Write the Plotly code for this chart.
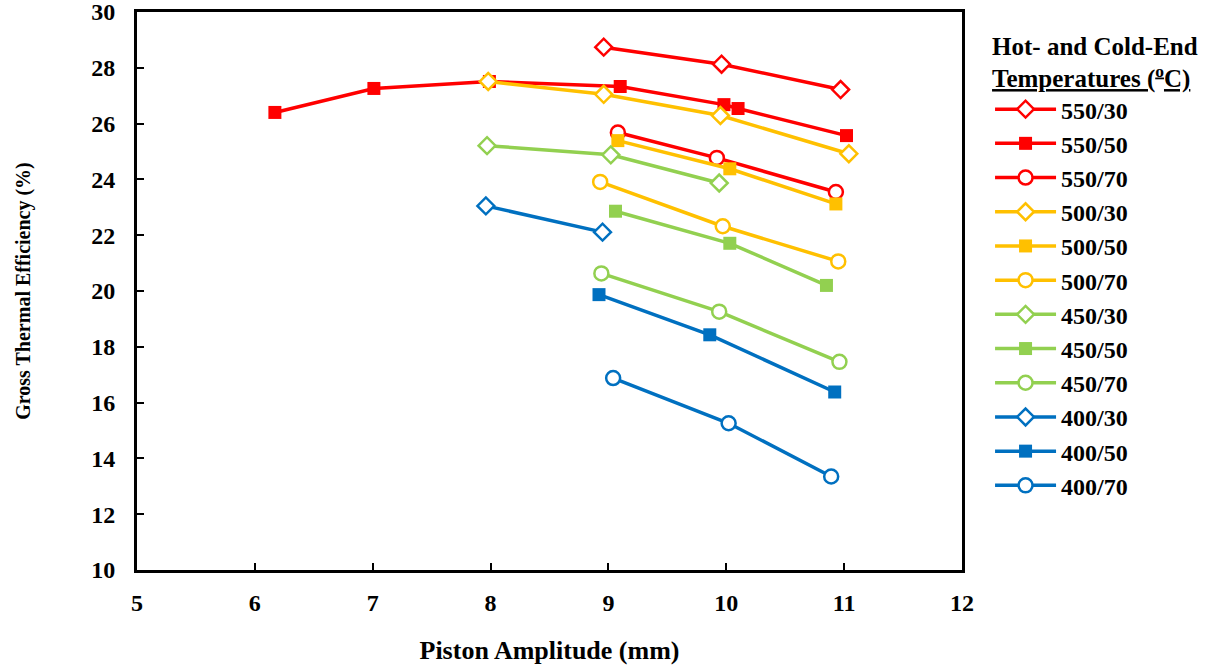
import plotly.graph_objects as go

# ---- data ----
series_names = ["550/30", "550/50", "550/70", "500/30", "500/50", "500/70",
                "450/30", "450/50", "450/70", "400/30", "400/50", "400/70"]

x_550_30 = [8.96, 9.96, 10.97]
y_550_30 = [28.74, 28.13, 27.22]
x_550_50 = [6.17, 7.01, 7.99, 9.10, 9.98, 10.10, 11.02]
y_550_50 = [26.40, 27.26, 27.51, 27.33, 26.68, 26.54, 25.57]
x_550_70 = [9.08, 9.92, 10.93]
y_550_70 = [25.68, 24.77, 23.55]
x_500_30 = [7.98, 8.96, 9.95, 11.04]
y_500_30 = [27.51, 27.05, 26.29, 24.92]
x_500_50 = [9.08, 10.03, 10.93]
y_500_50 = [25.39, 24.38, 23.12]
x_500_70 = [8.93, 9.97, 10.95]
y_500_70 = [23.91, 22.32, 21.06]
x_450_30 = [7.97, 9.02, 9.94]
y_450_30 = [25.21, 24.88, 23.87]
x_450_50 = [9.06, 10.03, 10.85]
y_450_50 = [22.86, 21.71, 20.20]
x_450_70 = [8.94, 9.94, 10.96]
y_450_70 = [20.63, 19.26, 17.46]
x_400_30 = [7.96, 8.95]
y_400_30 = [23.05, 22.11]
x_400_50 = [8.92, 9.86, 10.92]
y_400_50 = [19.87, 18.43, 16.38]
x_400_70 = [9.04, 10.02, 10.89]
y_400_70 = [16.88, 15.26, 13.35]

xs = [x_550_30, x_550_50, x_550_70, x_500_30, x_500_50, x_500_70,
      x_450_30, x_450_50, x_450_70, x_400_30, x_400_50, x_400_70]
ys = [y_550_30, y_550_50, y_550_70, y_500_30, y_500_50, y_500_70,
      y_450_30, y_450_50, y_450_70, y_400_30, y_400_50, y_400_70]

x_ticks = [5, 6, 7, 8, 9, 10, 11, 12]
y_ticks = [10, 12, 14, 16, 18, 20, 22, 24, 26, 28, 30]

colors = {"550": "#FF0000", "500": "#FFC000", "450": "#92D050", "400": "#0070C0"}
FONT = "Liberation Serif"

fig = go.Figure()
for name, x, y in zip(series_names, xs, ys):
    hot, cold = name.split("/")
    c = colors[hot]
    if cold == "30":
        marker = dict(symbol="diamond", size=13, color="white", line=dict(color=c, width=2.5))
    elif cold == "50":
        marker = dict(symbol="square", size=13, color=c, line=dict(color=c, width=0))
    else:
        marker = dict(symbol="circle", size=14, color="white", line=dict(color=c, width=2.5))
    fig.add_trace(go.Scatter(x=x, y=y, name=name, mode="lines+markers",
                             line=dict(color=c, width=3.5), marker=marker))

fig.update_layout(
    width=1221, height=665,
    margin=dict(l=137, r=259, t=12, b=95, autoexpand=False),
    plot_bgcolor="white", paper_bgcolor="white",
    font=dict(family=FONT, size=20, color="black"),
    showlegend=True,
    legend=dict(
        x=1.034, xanchor="left", y=0.982, yanchor="top",
        title=dict(text="<b>Hot- and Cold-End</b><br><b><u>Temperatures (<sup>o</sup>C)</u></b>",
                   font=dict(family=FONT, size=25, color="black"), side="top"),
        font=dict(family=FONT, size=24, color="black", weight="bold"),
        itemwidth=61, tracegroupgap=0, bgcolor="rgba(0,0,0,0)",
    ),
)
fig.update_xaxes(
    range=[5, 12], tickvals=x_ticks, ticktext=[str(v) for v in x_ticks],
    showgrid=False, zeroline=False, showline=True, linecolor="black", linewidth=3,
    mirror=True, ticks="inside", ticklen=7, tickwidth=2, tickcolor="black",
    tickfont=dict(family=FONT, size=24, color="black", weight="bold"),
    ticklabelstandoff=9, automargin=False, ticklabeloverflow="allow",
    title=dict(text="<b>Piston Amplitude (mm)</b>", font=dict(family=FONT, size=26), standoff=28),
)
fig.update_yaxes(
    range=[10, 30], tickvals=y_ticks, ticktext=[str(v) for v in y_ticks],
    showgrid=False, zeroline=False, showline=True, linecolor="black", linewidth=3,
    mirror=True, ticks="inside", ticklen=7, tickwidth=2, tickcolor="black",
    tickfont=dict(family=FONT, size=24, color="black", weight="bold"),
    ticklabelstandoff=14, automargin=False, ticklabeloverflow="allow",
    title=dict(text="<b>Gross Thermal Efficiency (%)</b>", font=dict(family=FONT, size=20), standoff=56),
)

fig.write_html("out.html", config={"displayModeBar": False},
               post_script="document.body.style.margin='0';document.body.style.padding='0';")
